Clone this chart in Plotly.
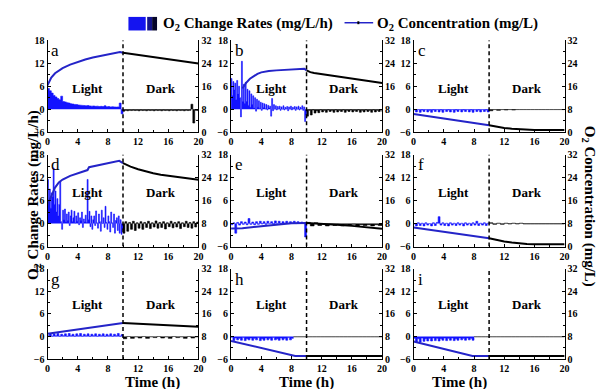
import numpy as np
import plotly.graph_objects as go

# ---------------- data ----------------
PANEL_LABELS = ["a", "b", "c", "d", "e", "f", "g", "h", "i"]
X_TICKS = [0, 4, 8, 12, 16, 20]
RATE_TICKS = [-6, 0, 6, 12, 18]
CONC_TICKS = [0, 8, 16, 24, 32]
LIGHT_LABEL = "Light"
DARK_LABEL = "Dark"
SWITCH_TIME = 10

# O2 change rates (mg/L/h): light-period samples run from 0 to LIGHT_END,
# dark-period samples from DARK_START to 20 (evenly spaced samples)
LIGHT_END = [10, 10, 10, 10, 10, 10, 10, 8.25, 8.0]
DARK_START = [10, 10, 10, 10, 10, 10, 10, 8.25, 8.0]

RATE_LIGHT_A = [5.4, 4.8, 4.2, 3.6, 3.2, 2.8, 2.5, 3.4, 2.0, 1.9, 1.7, 1.6, 1.4, 1.35, 1.25, 1.2, 1.1, 1.05, 1.0, 0.95,
                0.9, 0.95, 0.85, 0.8, 0.85, 0.75, 0.8, 0.7, 0.75, 0.7, 0.9, 0.65, 0.7, 0.6, 0.65, 0.6, 0.55, 0.6, 1.6, -1.2, 0.2]
RATE_DARK_A = [-0.5, -0.3, -0.4, -0.3, -0.35, -0.25, -0.35, -0.3, -0.4, -0.25, -0.35, -0.3, -0.4, -0.25, -0.35, -0.3,
               -0.4, -0.25, -0.35, -0.3, -0.4, -0.25, -0.35, -0.3, -0.4, -0.25, -0.35, -0.3, -0.4, -0.25, -0.35, -0.3,
               -0.4, -0.25, -0.35, -0.3, 1.3, -3.6, -0.3, -0.35, -0.3]
RATE_LIGHT_B = [8.0, 3.5, 7.2, 5.0, 6.8, 2.5, 7.5, 4.0, 6.0, 3.0, -2.0, 12.5, 2.0,
                6.5, 1.5, 7.0, 2.0, 5.2, 1.0, 4.8, 0.5, 4.0, 1.2, 3.5, 0.3,
                3.0, -0.5, 2.6, 0.5, 2.2, 0.2, 1.8, -0.3, 1.6, 0.4, 1.4, 0.1, 1.2, -0.2, 1.0, 0.3,
                0.8, -1.8, 2.8, -0.4, 1.2, 0.0, 0.9, -0.2,
                0.7, 0.1, 0.8, -0.3, 0.6, 0.0, 0.9, -0.2, 0.5, 0.1, 0.7, -0.4, 0.6, 0.0, 0.8, -0.2, 0.5, 0.1, 0.7, -0.3,
                0.6, 0.0, 0.8, -0.2, 0.5, 0.1, 0.9, -0.3,
                0.6, -3.2, -1.5, -0.5]
RATE_DARK_B = [-1.8, -0.3, -1.5, -0.2, -1.0, -0.4, -0.9, -0.2, -0.7, -0.3, -0.8, -0.2, -0.6, -0.3, -0.8, -0.2, -0.7,
               -0.3, -0.6, -0.2, -0.8, -0.3, -0.6, -0.2, -0.7, -0.3, -0.6, -0.2, -0.8, -0.3, -0.7, -0.2, -0.6, -0.3,
               -0.8, -0.2, -0.7, -0.3, -0.6, -0.2, -0.7]
RATE_LIGHT_C = [-0.2, -0.7, -0.1, -0.8, -0.2, -0.6, -0.1, -0.7, -0.3, -0.8, -0.2, -0.6, -0.1, -0.7, -0.2, -0.8, -0.1,
                -0.6, -0.2, -0.7, -0.1, -0.8, -0.2, -0.6, -0.1, -0.7, -0.2, -0.6, -0.1, -0.7, -0.2, -0.8, -0.1, -0.6,
                -0.2, -0.7, -0.1, -0.6, -0.2, -0.7, -0.1]
RATE_DARK_C = [-0.4, -0.1, -0.3, -0.1, -0.2, -0.1, -0.2, -0.1, -0.1, -0.1, -0.1, -0.1, -0.1, -0.1, -0.1, -0.1, -0.1,
               -0.1, -0.1, -0.1, -0.1]
RATE_LIGHT_D = [11.5, 6.0, 9.0, 4.0, 8.0, 7.0, 14.5, 5.0, 8.5, 3.0, 6.5, 2.0, 5.0,
                11.0, 0.5, -1.5, 3.5, 1.0, 3.8, 0.5, 2.5, 0.8, 3.0, -0.5, 2.0,
                3.5, 0.5, 1.5, 3.2, 0.2, 2.0, 0.6, 2.8, -0.3, 1.5, 0.8, 3.0, -1.0, 1.2, 0.5, 2.2,
                0.3, 11.5, 1.0, 3.2, -0.8, 2.0, -1.5, 1.0,
                2.0, -0.5, 3.3, 0.2, -1.2, 2.5, 0.5, -2.0, 3.5, 0.0, 1.5, -1.0, 4.5, 0.3, -1.5, 2.0, 0.5, -2.2, 3.0, 0.2,
                -1.0, 2.5, -2.5, 0.8, 1.5, -1.8, 2.0, -2.5,
                1.0, -2.8, -1.5, -2.0]
RATE_DARK_D = [-2.5, 0.5, -2.0, 0.3, -1.5, 0.6, -1.8, 0.2, -1.2, 0.5, -1.5, 0.3, -1.0, 0.6, -1.3, 0.2, -0.9, 0.7, -1.2,
               0.3, -1.0, 0.5, -1.4, 0.2, -0.8, 0.6, -1.1, 0.3, -0.9, 0.5, -1.3, 0.2, -0.8, 0.6, -1.0, 0.3, -1.2, 0.5,
               -0.9, 0.4, -1.0]
RATE_LIGHT_E = [-0.3, 0.2, -2.5, 0.3, -0.4, 0.5, -0.2, 0.4, -0.3, 1.3, -0.2, 0.4, -0.3, 0.5, -0.2, 0.6, -0.1, 0.5, -0.2,
                0.6, 0.0, 0.5, -0.1, 0.7, 0.0, 0.6, -0.1, 0.5, 0.1, 0.6, 0.0, 0.5, 0.1, 0.6, 0.0, 0.5, 0.1, 0.4, 0.0, -3.5, 0.3]
RATE_DARK_E = [0.3, -0.6, 0.2, -0.5, -0.1, -0.6, -0.2, -0.5, -0.2, -0.6, -0.3, -0.5, -0.2, -0.6, -0.3, -0.5, -0.3, -0.6,
               -0.3, -0.5, -0.4]
RATE_LIGHT_F = [-0.1, -0.6, 0.2, -0.5, 0.1, -0.6, 0.2, -0.4, 0.0, -0.6, 0.2, -0.5, 0.3, 1.8, -0.4, 0.2, -0.5, 0.1, -0.6,
                0.2, -0.4, 0.1, -0.5, 0.2, -0.4, 0.1, -0.6, 0.2, -0.4, 0.1, -0.5, 0.2, -0.4, 0.6, -0.5, 0.1, -0.4, 0.2,
                -0.5, 0.1, -0.2]
RATE_DARK_F = [0.2, -0.2, 0.1, -0.2, 0.1, -0.1, 0.1, -0.1, 0.1, -0.1, -0.1, -0.1, -0.1, -0.1, -0.1, -0.1, -0.1, -0.1,
               -0.1, -0.1, -0.1]
RATE_LIGHT_G = [0.2, 0.8, 0.1, 0.7, 0.2, 0.8, 0.1, 0.6, 0.2, 0.7, 0.1, 0.8, 0.2, 0.6, 0.1, 0.7, 0.2, 0.8, 0.1, 0.6, 0.2,
                0.7, 0.1, 0.6, 0.2, 0.7, 0.1, 0.6, 0.2, 0.7, 0.1, 0.6, 0.2, 0.7, 0.1, 0.6, 0.2, 0.8, 0.1, 0.5, 0.0]
RATE_DARK_G = [-0.6, 0.0, -0.5, -0.1, -0.4, 0.0, -0.5, -0.1, -0.3, 0.0, -0.4, -0.1, -0.5, 0.0, -0.3, -0.1, -0.5, 0.0,
               -0.4, -0.1, -0.3]
RATE_LIGHT_H = [-0.2, -1.1, -0.4, -0.9, -0.5, -1.0, -0.3, -1.1, -0.6, -0.9, -0.4, -1.0, -0.5, -0.9, -0.3, -1.1, -0.6,
                -1.0, -0.4, -0.9, -0.5, -1.0, -0.3, -0.9, -0.6, -1.0, -0.4, -0.9, -0.5, -1.0, -0.3, -0.9, -0.5, -0.2]
RATE_DARK_H = [-0.1, -0.1, -0.1, -0.1, -0.1, -0.1, -0.1, -0.1, -0.1, -0.1, -0.1, -0.1, -0.1, -0.1, -0.1, -0.1, -0.1,
               -0.1, -0.1, -0.1, -0.1, -0.1, -0.1, -0.1]
RATE_LIGHT_I = [-0.5, -1.6, -0.6, -1.5, -0.4, -1.3, -0.6, -1.2, -0.5, -1.2, -0.4, -1.1, -0.5, -1.2, -0.6, -1.0, -0.4,
                -1.1, -0.5, -1.0, -0.4, -1.1, -0.6, -1.0, -0.4, -0.9, -0.5, -1.0, -0.4, -0.9, -0.5, -1.0, -0.3]
RATE_DARK_I = [-0.1, -0.1, -0.1, -0.1, -0.1, -0.1, -0.1, -0.1, -0.1, -0.1, -0.1, -0.1, -0.1, -0.1, -0.1, -0.1, -0.1,
               -0.1, -0.1, -0.1, -0.1, -0.1, -0.1, -0.1, -0.1]

# O2 concentration (mg/L)
CONC_LIGHT_T_A = [0, 0.5, 1, 1.5, 2, 3, 4, 5, 6, 7, 8, 9, 9.6, 10]
CONC_LIGHT_A = [16.3, 19.0, 20.5, 21.5, 22.3, 23.5, 24.5, 25.3, 26.0, 26.6, 27.2, 27.6, 27.9, 27.6]
CONC_DARK_T_A = [10, 12, 14, 16, 18, 20]
CONC_DARK_A = [27.6, 26.9, 26.2, 25.5, 24.7, 23.9]

CONC_LIGHT_T_B = [1.5, 2, 2.5, 3, 3.5, 4, 5, 6, 7, 8, 9, 9.7, 10]
CONC_LIGHT_B = [15.2, 17.2, 18.6, 19.6, 20.3, 20.8, 21.3, 21.5, 21.7, 21.8, 21.9, 22.1, 21.5]
CONC_DARK_T_B = [10, 10.5, 11, 12, 14, 16, 18, 20]
CONC_DARK_B = [21.5, 20.9, 20.6, 20.2, 19.5, 18.7, 17.9, 17.1]

CONC_LIGHT_T_C = [0, 2, 4, 6, 8, 10]
CONC_LIGHT_C = [6.3, 5.6, 4.8, 4.0, 3.2, 2.4]
CONC_DARK_T_C = [10, 11, 12, 13, 14, 15, 16, 18, 20]
CONC_DARK_C = [2.4, 1.9, 1.5, 1.2, 1.0, 0.85, 0.8, 0.8, 0.8]

CONC_LIGHT_T_D = [0, 0.5, 1, 1.5, 2, 3, 4, 5, 5.3, 5.5, 6, 7, 8, 9, 9.5, 10]
CONC_LIGHT_D = [14.5, 17.5, 20.5, 22.3, 23.3, 24.6, 25.5, 26.3, 26.6, 27.6, 27.9, 28.5, 29.1, 29.6, 29.8, 29.0]
CONC_DARK_T_D = [10, 11, 12, 13, 14, 15, 16, 17, 18, 19, 20]
CONC_DARK_D = [29.0, 27.8, 26.9, 26.1, 25.5, 25.0, 24.6, 24.2, 23.9, 23.6, 23.2]

CONC_LIGHT_T_E = [0, 1.5, 4, 6, 8, 10]
CONC_LIGHT_E = [6.3, 6.4, 7.1, 7.7, 8.1, 8.2]
CONC_DARK_T_E = [10, 12, 14, 16, 18, 20]
CONC_DARK_E = [8.2, 8.0, 7.6, 7.2, 6.7, 6.2]

CONC_LIGHT_T_F = [0, 5, 10]
CONC_LIGHT_F = [6.6, 4.8, 2.9]
CONC_DARK_T_F = [10, 11, 12, 13, 14, 15, 16, 20]
CONC_DARK_F = [2.9, 2.3, 1.8, 1.4, 1.1, 0.9, 0.8, 0.8]

CONC_LIGHT_T_G = [0, 10]
CONC_LIGHT_G = [9.0, 12.8]
CONC_DARK_T_G = [10, 15, 20]
CONC_DARK_G = [12.8, 12.1, 11.5]

CONC_LIGHT_T_H = [0, 8.5, 10]
CONC_LIGHT_H = [6.4, 1.1, 1.1]
CONC_DARK_T_H = [10, 20]
CONC_DARK_H = [1.1, 1.1]

CONC_LIGHT_T_I = [0, 7.8, 10]
CONC_LIGHT_I = [6.2, 1.1, 1.1]
CONC_DARK_T_I = [10, 20]
CONC_DARK_I = [1.1, 1.1]

RATE_LIGHT = [RATE_LIGHT_A, RATE_LIGHT_B, RATE_LIGHT_C, RATE_LIGHT_D, RATE_LIGHT_E, RATE_LIGHT_F, RATE_LIGHT_G, RATE_LIGHT_H, RATE_LIGHT_I]
RATE_DARK = [RATE_DARK_A, RATE_DARK_B, RATE_DARK_C, RATE_DARK_D, RATE_DARK_E, RATE_DARK_F, RATE_DARK_G, RATE_DARK_H, RATE_DARK_I]
CONC_LIGHT_T = [CONC_LIGHT_T_A, CONC_LIGHT_T_B, CONC_LIGHT_T_C, CONC_LIGHT_T_D, CONC_LIGHT_T_E, CONC_LIGHT_T_F, CONC_LIGHT_T_G, CONC_LIGHT_T_H, CONC_LIGHT_T_I]
CONC_LIGHT = [CONC_LIGHT_A, CONC_LIGHT_B, CONC_LIGHT_C, CONC_LIGHT_D, CONC_LIGHT_E, CONC_LIGHT_F, CONC_LIGHT_G, CONC_LIGHT_H, CONC_LIGHT_I]
CONC_DARK_T = [CONC_DARK_T_A, CONC_DARK_T_B, CONC_DARK_T_C, CONC_DARK_T_D, CONC_DARK_T_E, CONC_DARK_T_F, CONC_DARK_T_G, CONC_DARK_T_H, CONC_DARK_T_I]
CONC_DARK = [CONC_DARK_A, CONC_DARK_B, CONC_DARK_C, CONC_DARK_D, CONC_DARK_E, CONC_DARK_F, CONC_DARK_G, CONC_DARK_H, CONC_DARK_I]

# ---------------- styling / layout ----------------
W, H = 606, 389
COLS = [(37, 190), (223, 376), (408, 561)]
ROWS = [(27, 122), (145, 240), (263, 356)]
LABEL_Y = [5.5, 8.0, 8.5]
BLUE_RATE = "#1212ff"
BLUE_CONC = "#2424c8"
BLACK = "#000000"
SERIF = "Liberation Serif"


def mids(v):
    return [(a + b) / 2 for a, b in zip(v[:-1], v[1:])]


fig = go.Figure()
layout = dict(width=W, height=H, margin=dict(l=0, r=0, t=0, b=0), paper_bgcolor="white",
              plot_bgcolor="white", showlegend=False,
              font=dict(family=SERIF, color="black"))
tickfont = dict(family=SERIF, size=10, color="black", weight="bold")
common = dict(showline=True, linecolor="black", linewidth=1, ticks="inside", ticklen=3, tickwidth=1,
              tickcolor="black", showgrid=False, zeroline=False, tickfont=tickfont, fixedrange=True)
shapes = []
annotations = []


def column_trace(t, v, color, xn, yn):
    # column-like rate record: each sample is held until the next one, filled down to zero
    return go.Scatter(x=t, y=v, xaxis=xn, yaxis=yn, mode="lines", line=dict(color=color, width=0.6, shape="hv"),
                      fill="tozeroy", fillcolor=color, hoverinfo="skip")


for k in range(9):
    r, c = divmod(k, 3)
    x0, x1 = COLS[c]
    y0, y1 = ROWS[r]
    xn = "x" if k == 0 else f"x{k+1}"
    yn = "y" if k == 0 else f"y{k+1}"
    y2n = f"y{k+10}"
    minor = dict(ticks="inside", ticklen=2, tickcolor="black", tickmode="array")
    layout["xaxis" if k == 0 else f"xaxis{k+1}"] = dict(
        domain=[x0 / W, x1 / W], anchor=yn, range=[0, 20], tickmode="array", tickvals=X_TICKS,
        minor=dict(minor, tickvals=mids(X_TICKS)), **common)
    layout["yaxis" if k == 0 else f"yaxis{k+1}"] = dict(
        domain=[1 - y1 / H, 1 - y0 / H], anchor=xn, range=[-6, 18], tickmode="array", tickvals=RATE_TICKS,
        minor=dict(minor, tickvals=mids(RATE_TICKS)), **common)
    layout[f"yaxis{k+10}"] = dict(
        overlaying=yn, anchor=xn, side="right", range=[0, 32], tickmode="array", tickvals=CONC_TICKS,
        minor=dict(minor, tickvals=mids(CONC_TICKS)), **common)

    # rates as dense columns
    rl = RATE_LIGHT[k]
    tl = np.linspace(0, LIGHT_END[k], len(rl))
    fig.add_trace(column_trace(tl, rl, BLUE_RATE, xn, yn))
    rd = RATE_DARK[k]
    td = np.linspace(DARK_START[k], 20, len(rd))
    fig.add_trace(column_trace(td, rd, BLACK, xn, yn))
    # concentration
    fig.add_trace(go.Scatter(x=CONC_LIGHT_T[k], y=CONC_LIGHT[k], xaxis=xn, yaxis=y2n, mode="lines",
                             line=dict(color=BLUE_CONC, width=2), hoverinfo="skip"))
    fig.add_trace(go.Scatter(x=CONC_DARK_T[k], y=CONC_DARK[k], xaxis=xn, yaxis=y2n, mode="lines",
                             line=dict(color=BLACK, width=2), hoverinfo="skip"))

    shapes.append(dict(type="line", xref=xn, yref=yn, x0=SWITCH_TIME, x1=SWITCH_TIME, y0=-6, y1=18,
                       line=dict(color="black", width=1.5, dash="4px,3px")))
    annotations.append(dict(xref=xn, yref=yn, x=0.25, y=15.3, text=PANEL_LABELS[k], showarrow=False,
                            xanchor="left", yanchor="middle", font=dict(family=SERIF, size=17, color="black")))
    annotations.append(dict(xref=xn, yref=yn, x=5.3, y=LABEL_Y[r], text=LIGHT_LABEL, showarrow=False,
                            font=dict(family=SERIF, size=13, color="black", weight="bold")))
    annotations.append(dict(xref=xn, yref=yn, x=15.0, y=LABEL_Y[r], text=DARK_LABEL, showarrow=False,
                            font=dict(family=SERIF, size=13, color="black", weight="bold")))
    if r == 2:
        annotations.append(dict(xref="paper", yref="paper", x=((x0 + x1) / 2) / W, y=1 - 380.5 / H,
                                text="Time (h)", showarrow=False, yanchor="middle",
                                font=dict(family=SERIF, size=15, color="black", weight="bold")))


def px(x):
    return x / W


def py(y):
    return 1 - y / H


titlefont = dict(family=SERIF, size=15, color="black", weight="bold")
annotations.append(dict(xref="paper", yref="paper", x=px(12), y=py(187), textangle=-90, showarrow=False,
                        text="O<sub>2</sub> Change Rates (mg/L/h)", font=titlefont))
annotations.append(dict(xref="paper", yref="paper", x=px(597), y=py(198), textangle=90, showarrow=False,
                        text="O<sub>2</sub> Concentration (mg/L)", font=titlefont))

# legend (drawn manually)
shapes.append(dict(type="rect", xref="paper", yref="paper", x0=px(119), x1=px(136.5), y0=py(17), y1=py(3),
                   fillcolor="#1414f0", line=dict(width=0)))
shapes.append(dict(type="rect", xref="paper", yref="paper", x0=px(138), x1=px(143), y0=py(17), y1=py(3),
                   fillcolor="#14148a", line=dict(width=0)))
shapes.append(dict(type="rect", xref="paper", yref="paper", x0=px(143), x1=px(148), y0=py(17), y1=py(3),
                   fillcolor="#05052a", line=dict(width=0)))
annotations.append(dict(xref="paper", yref="paper", x=px(152), y=py(10), xanchor="left", yanchor="middle",
                        showarrow=False, text="O<sub>2</sub> Change Rates (mg/L/h)", font=titlefont))
shapes.append(dict(type="line", xref="paper", yref="paper", x0=px(338), x1=px(367), y0=py(9), y1=py(9),
                   line=dict(color=BLUE_CONC, width=1.5)))
shapes.append(dict(type="line", xref="paper", yref="paper", x0=px(352), x1=px(352), y0=py(7.5), y1=py(10.5),
                   line=dict(color="black", width=2)))
annotations.append(dict(xref="paper", yref="paper", x=px(369), y=py(10), xanchor="left", yanchor="middle",
                        showarrow=False, text="O<sub>2</sub> Concentration (mg/L)", font=titlefont))

layout["shapes"] = shapes
layout["annotations"] = annotations
fig.update_layout(**layout)
fig.write_html("out.html")
